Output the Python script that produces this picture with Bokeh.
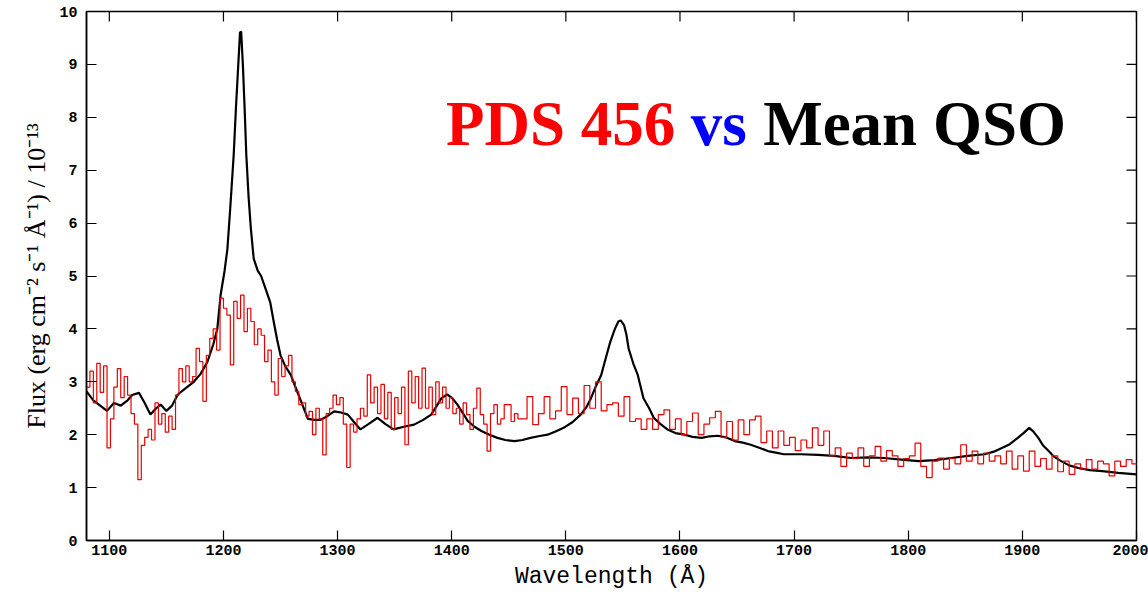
import numpy as np
from bokeh.plotting import figure
from bokeh.models import FixedTicker, Range1d, Label
from bokeh.embed import file_html
from bokeh.resources import INLINE

# ---------------- data ----------------
title_parts = ["PDS 456", "vs", "Mean QSO"]
title_colors = ["#ff0000", "#0000ff", "#000000"]

x_ticks = [1100, 1200, 1300, 1400, 1500, 1600, 1700, 1800, 1900, 2000]
y_ticks = [0, 1, 2, 3, 4, 5, 6, 7, 8, 9, 10]

# Mean QSO composite (black)
mean_qso_wavelength = [
    1080, 1086, 1092, 1098, 1104, 1110, 1116, 1120, 1126, 1131, 1136, 1141, 1145,
    1150, 1155, 1160, 1167, 1174, 1180, 1186, 1191, 1194.6, 1197.5, 1201, 1203.4,
    1206, 1209, 1211, 1213, 1214.5, 1215.5, 1217, 1218.5, 1220, 1222, 1224, 1226.5,
    1230, 1233, 1237, 1241, 1244, 1247, 1250, 1254, 1259, 1264, 1268, 1274, 1280,
    1285, 1291, 1297, 1303, 1309, 1314, 1320, 1327, 1335, 1342, 1349, 1358, 1367,
    1375, 1382, 1387, 1391, 1396, 1400, 1405, 1410, 1414, 1420, 1426, 1433, 1440,
    1447, 1455, 1462, 1469, 1476, 1484, 1491, 1498, 1506, 1513, 1518, 1522, 1526,
    1531, 1535, 1539, 1543, 1546, 1548, 1551, 1553, 1555, 1559, 1563, 1568, 1573,
    1577, 1583, 1589, 1596, 1604, 1611, 1619, 1626, 1633, 1640, 1648, 1655, 1662,
    1670, 1677, 1684, 1691, 1706, 1721, 1735, 1750, 1765, 1779, 1794, 1809, 1823,
    1838, 1852, 1867, 1875, 1882, 1889, 1896, 1901, 1906, 1910, 1914, 1918, 1923,
    1928, 1934, 1941, 1949, 1959, 1970, 1984, 2000,
]
mean_qso_flux = [
    2.82, 2.65, 2.55, 2.45, 2.60, 2.55, 2.65, 2.75, 2.79, 2.60, 2.38, 2.50, 2.57,
    2.45, 2.55, 2.76, 2.88, 3.00, 3.15, 3.38, 3.70, 4.00, 4.64, 5.10, 5.50,
    6.30, 7.30, 8.20, 9.00, 9.60, 9.62, 9.00, 8.20, 7.30, 6.50, 5.90, 5.33,
    5.10, 5.00, 4.75, 4.50, 4.14, 3.80, 3.50, 3.30, 3.13, 2.85, 2.63, 2.30, 2.28,
    2.28, 2.35, 2.44, 2.42, 2.38, 2.25, 2.10, 2.20, 2.32, 2.20, 2.10, 2.15, 2.19,
    2.28, 2.38, 2.55, 2.69, 2.76, 2.70, 2.57, 2.40, 2.26, 2.15, 2.07, 2.00, 1.94,
    1.90, 1.88, 1.90, 1.94, 1.97, 2.00, 2.06, 2.13, 2.24, 2.38, 2.52, 2.69, 2.90,
    3.13, 3.45, 3.76, 4.00, 4.14, 4.16, 4.07, 3.90, 3.63, 3.35, 3.13, 2.69, 2.50,
    2.32, 2.20, 2.10, 2.03, 2.00, 1.96, 1.94, 1.97, 1.98, 1.95, 1.88, 1.85, 1.81,
    1.75, 1.69, 1.66, 1.63, 1.63, 1.62, 1.60, 1.56, 1.57, 1.56, 1.53, 1.50, 1.52,
    1.56, 1.60, 1.63, 1.68, 1.75, 1.82, 1.94, 2.03, 2.13, 2.05, 1.94, 1.80, 1.69,
    1.58, 1.50, 1.42, 1.37, 1.33, 1.31, 1.28, 1.25,
]

# PDS 456 (red): 3 A bins from 1080, then 5 A bins from 1461
pds456_fine_start = 1080
pds456_fine_width = 3
pds456_flux_fine = [
    2.90, 3.20, 2.60, 3.35, 2.80, 3.30, 1.75, 2.30, 2.90, 3.25, 2.70, 3.10, 2.75,
    2.40, 2.20, 1.15, 1.80, 1.95, 2.10, 1.90, 2.60, 2.20, 2.40, 2.05, 2.35, 2.10,
    2.75, 3.25, 3.00, 3.30, 3.00, 3.10, 3.63, 3.38, 2.63, 3.50, 3.82, 4.00, 3.60,
    4.58, 4.39, 4.26, 3.32, 4.52, 4.20, 4.64, 3.95, 4.39, 4.14, 3.70, 4.00, 3.88,
    3.38, 3.60, 3.00, 2.75, 3.44, 3.10, 3.30, 3.50, 3.00, 2.82, 2.57, 2.60, 2.35,
    2.44, 2.00, 2.50, 2.30, 1.62, 2.40, 2.50, 2.75, 2.57, 2.70, 2.20, 1.38, 2.20,
    2.05, 2.30, 2.50, 2.35, 3.13, 2.60, 2.90, 2.40, 2.95, 2.30, 2.80, 2.10, 2.70,
    2.40, 2.90, 1.81, 3.20, 2.60, 3.10, 2.50, 3.26, 2.50, 2.90, 2.38, 3.00, 2.60,
    2.90, 2.50, 2.70, 2.40, 2.50, 2.20, 2.60, 2.38, 2.10, 2.50, 2.88, 2.38, 2.20,
    1.69, 2.40, 2.57, 2.20, 2.30, 2.57, 2.57, 2.25, 2.40, 2.30,
]
pds456_coarse_start = 1461
pds456_coarse_width = 5
pds456_flux_coarse = [
    2.30, 2.72, 2.19, 2.40, 2.72, 2.30, 2.45, 2.91, 2.38, 2.69, 2.40, 2.93, 2.50,
    3.00, 2.45, 2.57, 2.60, 2.35, 2.72, 2.25, 2.30, 2.10, 2.30, 2.10, 2.38, 2.47,
    2.10, 2.30, 2.00, 2.25, 2.41, 2.00, 2.20, 2.32, 2.44, 1.95, 2.25, 1.90, 2.28,
    2.00, 2.28, 2.35, 1.85, 2.07, 1.75, 2.07, 1.80, 1.95, 1.70, 1.90, 1.75, 2.13,
    1.80, 2.07, 1.60, 1.75, 1.40, 1.65, 1.55, 1.75, 1.40, 1.60, 1.78, 1.50, 1.70,
    1.60, 1.40, 1.55, 1.60, 1.84, 1.40, 1.19, 1.50, 1.56, 1.35, 1.55, 1.45, 1.81,
    1.50, 1.69, 1.45, 1.65, 1.50, 1.60, 1.45, 1.69, 1.35, 1.60, 1.31, 1.69, 1.40,
    1.55, 1.35, 1.60, 1.30, 1.50, 1.25, 1.45, 1.35, 1.53, 1.35, 1.50, 1.45, 1.22,
    1.50, 1.40, 1.53, 1.45,
]

# ---------------- build step arrays ----------------
fine_edges = pds456_fine_start + pds456_fine_width * np.arange(len(pds456_flux_fine))
coarse_edges = pds456_coarse_start + pds456_coarse_width * np.arange(len(pds456_flux_coarse))
red_x = np.concatenate([fine_edges, coarse_edges,
                        [coarse_edges[-1] + pds456_coarse_width]])
red_y = np.concatenate([pds456_flux_fine, pds456_flux_coarse, [pds456_flux_coarse[-1]]])

# ---------------- figure ----------------
X0, X1, Y0, Y1 = 1080, 2000, 0, 10
W, H = 1148, 592
BL, BR, BT, BB = 86, 12, 11, 49
p = figure(width=W, height=H, output_backend="svg", toolbar_location=None,
           x_range=Range1d(X0, X1), y_range=Range1d(Y0, Y1),
           min_border_left=BL, min_border_right=BR, min_border_top=BT,
           min_border_bottom=BB, x_axis_label="Wavelength (Å)",
           y_axis_label="Flux (erg cm⁻² s⁻¹ Å⁻¹) / 10⁻¹³")
p.background_fill_color = "white"
p.border_fill_color = "white"
p.outline_line_color = "black"
p.outline_line_width = 1.5
p.grid.visible = False

tick_font = "Liberation Mono"
p.xaxis.ticker = FixedTicker(ticks=x_ticks)
p.yaxis.ticker = FixedTicker(ticks=y_ticks)

for ax in list(p.xaxis) + list(p.yaxis):
    ax.major_tick_in = 10
    ax.major_tick_out = 0
    ax.minor_tick_line_color = None
    ax.axis_line_color = "black"
    ax.axis_line_width = 1.5
    ax.major_tick_line_color = "black"
    ax.major_tick_line_width = 1.2
    ax.major_label_text_font = tick_font
    ax.major_label_text_font_style = "bold"
    ax.major_label_text_font_size = "15px"
    ax.major_label_text_color = "black"
    ax.axis_label_text_color = "black"

p.xaxis.major_label_standoff = 4
p.yaxis.major_label_standoff = 9
p.xaxis.axis_label_text_font = "Liberation Mono"
p.xaxis.axis_label_text_font_size = "23px"
p.xaxis.axis_label_text_font_style = "normal"
p.xaxis.axis_label_standoff = 6
p.yaxis.axis_label_text_font = "Liberation Serif"
p.yaxis.axis_label_text_font_size = "26px"
p.yaxis.axis_label_text_font_style = "normal"
p.yaxis.axis_label_standoff = 5

# mirrored inward ticks on top and right edges (10 px long)
frame_w = W - BL - BR
frame_h = H - BT - BB
tick_dy = 10 * (Y1 - Y0) / frame_h
tick_dx = 10 * (X1 - X0) / frame_w
p.segment(x0=x_ticks, y0=[Y1] * len(x_ticks), x1=x_ticks, y1=[Y1 - tick_dy] * len(x_ticks),
          line_color="black", line_width=1.2)
p.segment(x0=[X1] * len(y_ticks), y0=y_ticks, x1=[X1 - tick_dx] * len(y_ticks), y1=y_ticks,
          line_color="black", line_width=1.2)

# spectra
p.line(mean_qso_wavelength, mean_qso_flux, line_color="black", line_width=2.2)
p.step(red_x, red_y, mode="after", line_color="#e80000", line_width=1.2)

# title text
title_x = [1394.9, 1609.5, 1672.9]
for txt, col, xx in zip(title_parts, title_colors, title_x):
    p.add_layout(Label(x=xx, y=7.88, text=txt, text_color=col,
                       text_font="Liberation Serif", text_font_style="bold",
                       text_font_size="63px", text_baseline="alphabetic",
                       text_align="left"))

open("out.html", "w").write(file_html(p, INLINE))
